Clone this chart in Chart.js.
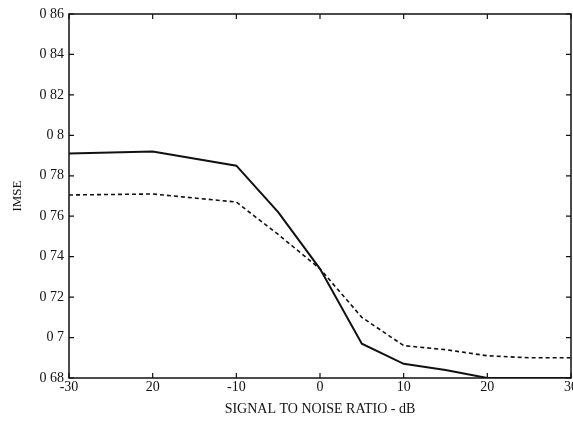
<!DOCTYPE html>
<html>
<head>
<meta charset="utf-8">
<script src="https://cdn.jsdelivr.net/npm/chart.js@4"></script>
<style>
  html, body { margin: 0; padding: 0; background: #fff; }
  #wrap { width: 573px; height: 428px; }
</style>
</head>
<body>
<div id="wrap"><canvas id="imse-chart"></canvas></div>
<script>
// values
const snrDb = [-30, -20, -10, -5, 0, 5, 10, 15, 20, 25, 30];
const imseSolid = [0.791, 0.792, 0.785, 0.762, 0.734, 0.697, 0.687, 0.684, 0.680, 0.680, 0.680];
const imseDashed = [0.7705, 0.771, 0.767, 0.751, 0.734, 0.710, 0.696, 0.694, 0.691, 0.690, 0.690];

const xTicks = [-30, -20, -10, 0, 10, 20, 30];
const xTickLabels = ["-30", "20", "-10", "0", "10", "20", "30"];
const yTicks = [0.68, 0.70, 0.72, 0.74, 0.76, 0.78, 0.80, 0.82, 0.84, 0.86];
const yTickLabels = ["0 68", "0 7", "0 72", "0 74", "0 76", "0 78", "0 8", "0 82", "0 84", "0 86"];

const serif = "'Liberation Serif', 'DejaVu Serif', serif";

// draws the frame and the inward tick marks on all four sides
const frameTicks = {
  id: "frameTicks",
  afterDraw(chart) {
    const { ctx, chartArea: a, scales } = chart;
    ctx.save();
    ctx.strokeStyle = "#111";
    ctx.lineWidth = 1.5;
    ctx.strokeRect(a.left, a.top, a.right - a.left, a.bottom - a.top);
    ctx.lineWidth = 1.2;
    ctx.beginPath();
    xTicks.forEach((v) => {
      const px = scales.x.getPixelForValue(v);
      ctx.moveTo(px, a.bottom); ctx.lineTo(px, a.bottom - 5);
      ctx.moveTo(px, a.top); ctx.lineTo(px, a.top + 5);
    });
    yTicks.forEach((v) => {
      const py = scales.y.getPixelForValue(v);
      ctx.moveTo(a.left, py); ctx.lineTo(a.left + 5, py);
      ctx.moveTo(a.right, py); ctx.lineTo(a.right - 5, py);
    });
    ctx.stroke();
    ctx.restore();
  },
};

new Chart(document.getElementById("imse-chart"), {
  type: "line",
  data: {
    labels: snrDb,
    datasets: [
      {
        label: "solid",
        data: snrDb.map((x, i) => ({ x: x, y: imseSolid[i] })),
        borderColor: "#111",
        borderWidth: 2,
        pointRadius: 0,
        tension: 0,
        fill: false,
      },
      {
        label: "dashed",
        data: snrDb.map((x, i) => ({ x: x, y: imseDashed[i] })),
        borderColor: "#111",
        borderWidth: 1.6,
        borderDash: [4, 3],
        pointRadius: 0,
        tension: 0,
        fill: false,
      },
    ],
  },
  options: {
    responsive: true,
    maintainAspectRatio: false,
    animation: false,
    layout: { padding: { left: 4, top: 14, right: 2, bottom: 6 } },
    plugins: { legend: { display: false }, tooltip: { enabled: false } },
    scales: {
      x: {
        type: "linear",
        min: -30,
        max: 30,
        afterBuildTicks: (s) => { s.ticks = xTicks.map((v) => ({ value: v })); },
        afterFit: (s) => { s.height = 44; s.paddingLeft = 0; s.paddingRight = 0; },
        grid: { display: false, drawTicks: false },
        border: { display: false },
        ticks: {
          padding: 1,
          color: "#111",
          font: { family: serif, size: 14 },
          maxRotation: 0,
          autoSkip: false,
          callback: (v, i) => xTickLabels[i],
        },
        title: {
          display: true,
          text: "SIGNAL TO NOISE RATIO - dB",
          color: "#111",
          font: { family: serif, size: 14 },
          padding: { top: 0, bottom: 4 },
        },
      },
      y: {
        type: "linear",
        min: 0.68,
        max: 0.86,
        afterBuildTicks: (s) => { s.ticks = yTicks.map((v) => ({ value: v })); },
        afterFit: (s) => { s.width = 65; s.paddingTop = 0; s.paddingBottom = 0; },
        grid: { display: false, drawTicks: false },
        border: { display: false },
        ticks: {
          padding: 5,
          color: "#111",
          font: { family: serif, size: 14 },
          autoSkip: false,
          callback: (v, i) => yTickLabels[i],
        },
        title: {
          display: true,
          text: "IMSE",
          color: "#111",
          font: { family: serif, size: 13 },
          padding: { top: 6, bottom: 0 },
        },
      },
    },
  },
  plugins: [frameTicks],
});
</script>
</body>
</html>
